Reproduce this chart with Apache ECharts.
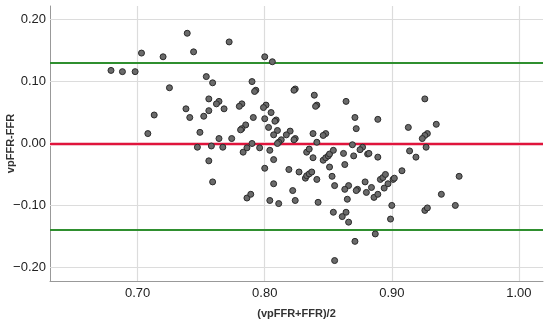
<!DOCTYPE html>
<html><head><meta charset="utf-8">
<script src="https://cdn.jsdelivr.net/npm/echarts@6/dist/echarts.min.js"></script>
<style>html,body{margin:0;padding:0;background:#fff}#c{width:550px;height:327px}</style>
</head><body><div id="c"></div>
<script>
const xTicks = [0.70, 0.80, 0.90, 1.00];
const yTicks = [-0.20, -0.10, 0.00, 0.10, 0.20];
const meanDiff = [-0.004];
const loaLimits = [0.133, -0.141];
const meanX = [0.679,0.688,0.698,0.703,0.720,0.725,0.713,0.708,0.739,0.744,0.738,0.741,0.749,0.754,0.759,0.756,0.764,0.762,0.756,0.752,0.768,0.764,0.772,0.774,0.800,0.806,0.790,0.793,0.792,0.824,0.823,0.839,0.841,0.840,0.782,0.780,0.801,0.799,0.805,0.800,0.809,0.808,0.791,0.803,0.785,0.782,0.781,0.810,0.807,0.820,0.817,0.824,0.823,0.838,0.848,0.846,0.841,0.813,0.811,0.810,0.790,0.864,0.871,0.872,0.889,0.913,0.926,0.935,0.928,0.926,0.924,
0.747,0.758,0.767,0.783,0.786,0.796,0.804,0.833,0.835,0.838,0.846,0.848,0.850,0.851,0.854,0.862,0.869,0.870,0.877,0.875,0.881,0.882,0.889,0.914,0.919,0.927,0.756,0.807,
0.759,0.800,0.807,0.786,0.789,0.804,0.811,0.819,0.827,0.822,0.824,0.832,0.833,0.835,0.837,0.841,0.842,0.851,0.853,0.855,0.863,0.866,0.863,0.873,0.872,0.865,0.854,0.864,0.861,0.866,0.871,0.855,0.879,0.880,0.884,0.886,0.889,0.891,0.893,0.895,0.894,0.897,0.901,0.902,0.908,0.900,0.899,0.887,0.926,0.928,0.939,0.950,0.953];
const diffY = [0.118,0.116,0.116,0.146,0.140,0.090,0.046,0.016,0.178,0.148,0.056,0.042,0.018,0.108,0.098,0.072,0.068,0.064,0.053,0.044,0.056,0.008,0.164,0.008,0.140,0.132,0.100,0.086,0.084,0.088,0.086,0.078,0.062,0.060,0.064,0.060,0.062,0.058,0.050,0.040,0.038,0.036,0.042,0.026,0.030,0.024,0.022,0.021,0.014,0.020,0.014,0.008,0.006,0.016,0.016,0.013,0.002,0.006,0.002,0.000,0.000,0.068,0.042,0.024,0.039,0.026,0.072,0.031,0.016,0.013,0.008,
-0.006,-0.004,-0.006,-0.014,-0.007,-0.007,-0.011,-0.014,-0.009,-0.023,-0.027,-0.023,-0.020,-0.017,-0.011,-0.016,-0.002,-0.020,-0.006,-0.010,-0.017,-0.016,-0.022,-0.012,-0.022,-0.006,-0.028,-0.026,
-0.062,-0.040,-0.065,-0.088,-0.082,-0.092,-0.097,-0.042,-0.046,-0.076,-0.092,-0.056,-0.052,-0.049,-0.046,-0.058,-0.095,-0.038,-0.053,-0.068,-0.034,-0.068,-0.074,-0.074,-0.076,-0.090,-0.111,-0.111,-0.118,-0.127,-0.158,-0.189,-0.062,-0.079,-0.071,-0.087,-0.082,-0.058,-0.055,-0.050,-0.072,-0.065,-0.058,-0.056,-0.044,-0.100,-0.122,-0.146,-0.108,-0.104,-0.082,-0.100,-0.053];

const points = meanX.map((x, i) => [x, diffY[i]]);
const fmt = v => (Math.abs(v) < 1e-9 ? '0.00' : (v < 0 ? '\u2212' : '') + Math.abs(v).toFixed(2));
const ff = 'Liberation Sans, Arial, sans-serif';

const chart = echarts.init(document.getElementById('c'), null, {renderer: 'canvas'});
chart.setOption({
  animation: false,
  backgroundColor: '#fff',
  grid: {left: 50, right: 7, top: 6, bottom: 46, containLabel: false, outerBoundsMode: 'none'},
  xAxis: {
    type: 'value', min: 0.631, max: 1.019,
    name: '(vpFFR+FFR)/2', nameLocation: 'middle', nameGap: 27, nameMoveOverlap: false,
    nameTextStyle: {fontFamily: ff, fontSize: 11, fontWeight: 'bold', color: '#333'},
    axisLine: {show: true, onZero: false, lineStyle: {color: '#999', width: 1}},
    axisTick: {show: false},
    splitLine: {show: false},
    axisLabel: {customValues: xTicks, formatter: fmt, fontFamily: ff, fontSize: 13, color: '#222', margin: 6}
  },
  yAxis: {
    type: 'value', min: -0.222, max: 0.222,
    name: 'vpFFR-FFR', nameLocation: 'middle', nameRotate: 90, nameGap: 34, nameMoveOverlap: false,
    nameTextStyle: {fontFamily: ff, fontSize: 11, fontWeight: 'bold', color: '#333'},
    axisLine: {show: true, onZero: false, lineStyle: {color: '#999', width: 1}},
    axisTick: {show: false},
    splitLine: {show: false},
    axisLabel: {customValues: yTicks, formatter: fmt, fontFamily: ff, fontSize: 13, color: '#222', margin: 4}
  },
  series: [
    {
      type: 'line', data: [], z: 1, silent: true,
      markLine: {
        silent: true, symbol: ['none', 'none'], label: {show: false},
        lineStyle: {color: '#dcdcdc', width: 1.2, type: 'solid'},
        emphasis: {disabled: true},
        data: xTicks.map(v => ({xAxis: v})).concat(yTicks.map(v => ({yAxis: v})))
      }
    },
    {
      type: 'line', data: [], z: 2, silent: true,
      markLine: {
        silent: true, symbol: ['none', 'none'], label: {show: false},
        lineStyle: {color: '#f3c3cc', width: 4, type: 'solid'},
        data: meanDiff.map(v => ({yAxis: v}))
      }
    },
    {
      type: 'line', data: [], z: 3, silent: true,
      markLine: {
        silent: true, symbol: ['none', 'none'], label: {show: false},
        lineStyle: {color: '#e0143c', width: 2, type: 'solid'},
        data: meanDiff.map(v => ({yAxis: v}))
      }
    },
    {
      type: 'line', data: [], z: 3, silent: true,
      markLine: {
        silent: true, symbol: ['none', 'none'], label: {show: false},
        lineStyle: {color: '#2f8f2f', width: 2, type: 'solid'},
        data: loaLimits.map(v => ({yAxis: v}))
      }
    },
    {
      type: 'scatter', data: points, z: 5, symbolSize: 6,
      itemStyle: {color: '#6a6a6a', borderColor: '#2b2b2b', borderWidth: 1, opacity: 1}
    }
  ]
});
</script></body></html>
